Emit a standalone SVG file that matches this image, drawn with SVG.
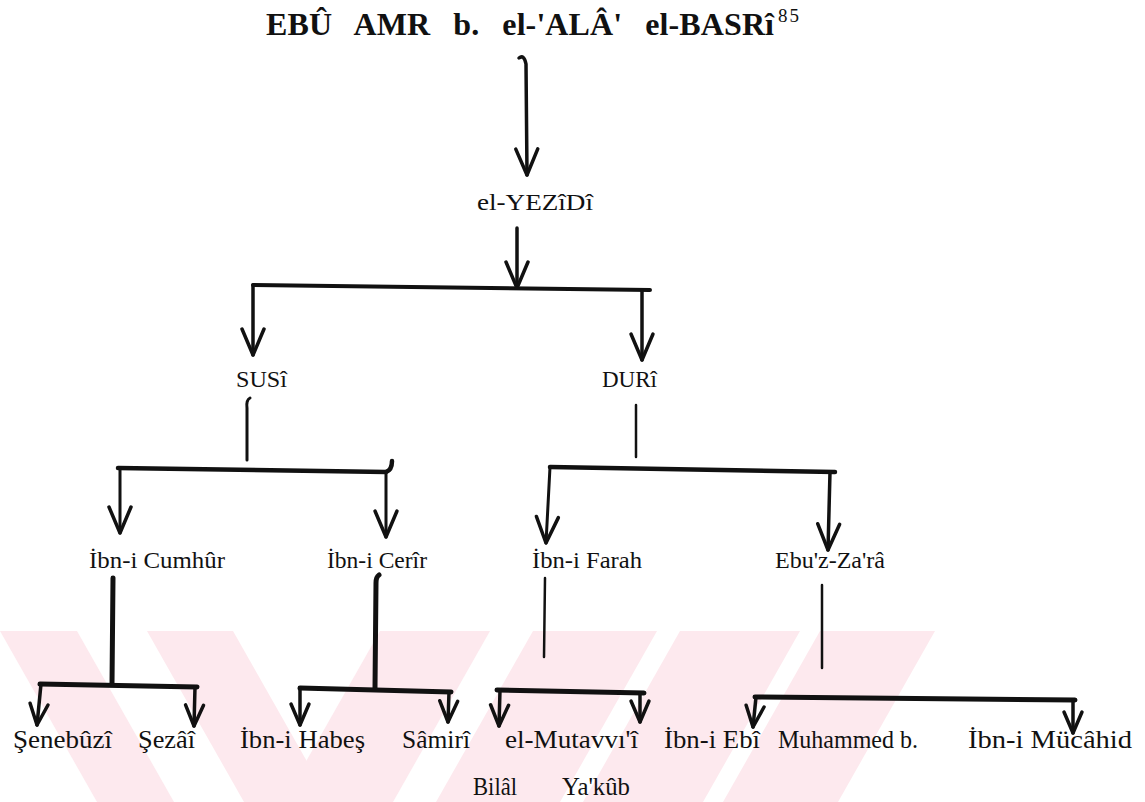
<svg xmlns="http://www.w3.org/2000/svg" width="1145" height="802" viewBox="0 0 1145 802">
<style>
.t{font-family:"Liberation Serif","Times New Roman",serif;font-size:24px;fill:#111}
.b{font-size:25px}
.ttl{font-family:"Liberation Serif","Times New Roman",serif;font-size:32px;font-weight:bold;fill:#111}
.c{fill:none;stroke:#111;stroke-linecap:round;stroke-linejoin:round}
.w{fill:#fde9ee}
</style>
<defs>
<marker id="ah" markerUnits="userSpaceOnUse" markerWidth="40" markerHeight="40" refX="0" refY="0" orient="auto" overflow="visible">
<path d="M-26,-11 L0,0 L-26,11" fill="none" stroke="#111" stroke-width="3.5" stroke-linecap="round" stroke-linejoin="round"/>
</marker>
<marker id="as" markerUnits="userSpaceOnUse" markerWidth="40" markerHeight="40" refX="0" refY="0" orient="auto" overflow="visible">
<path d="M-21,-9 L0,0 L-21,9" fill="none" stroke="#111" stroke-width="3.5" stroke-linecap="round" stroke-linejoin="round"/>
</marker>
</defs>
<rect width="1145" height="802" fill="#fff"/>
<g id="watermark">
<polygon class="w" points="0,631 77,631 174,802 97,802"/>
<polygon class="w" points="147,631 233,631 330,802 244,802"/>
<polygon class="w" points="380,631 490,631 393,802 283,802"/>
<polygon class="w" points="533,631 657,631 560,802 436,802"/>
<polygon class="w" points="680,631 800,631 703,802 583,802"/>
<polygon class="w" points="820,631 935,631 838,802 723,802"/>
</g>
<g id="connectors">
<path class="c" style="stroke-width:3.5" d="M519,58 Q524,54 526,64 L527,175" marker-end="url(#ah)"/>
<path class="c" style="stroke-width:3.5" d="M517,228 L517,288" marker-end="url(#ah)"/>
<path class="c" style="stroke-width:4" d="M253,285 L650,290"/>
<path class="c" style="stroke-width:3.5" d="M253,285 L253,355" marker-end="url(#ah)"/>
<path class="c" style="stroke-width:3.5" d="M642,290 L642,360" marker-end="url(#ah)"/>
<path class="c" style="stroke-width:3" d="M250,398 Q246,400 247,408 L247,460"/>
<path class="c" style="stroke-width:4.5" d="M118,468 L386,472 Q392,470 392,461"/>
<path class="c" style="stroke-width:3" d="M120,468 L120,533" marker-end="url(#ah)"/>
<path class="c" style="stroke-width:3" d="M386,472 L386,537" marker-end="url(#ah)"/>
<path class="c" style="stroke-width:2.5" d="M636,405 L636,457"/>
<path class="c" style="stroke-width:4.5" d="M550,467 L835,472"/>
<path class="c" style="stroke-width:3" d="M550,467 L546,543" marker-end="url(#ah)"/>
<path class="c" style="stroke-width:3.5" d="M830,472 L828,550" marker-end="url(#ah)"/>
<path class="c" style="stroke-width:5" d="M113,578 L112,684"/>
<path class="c" style="stroke-width:5" d="M40,684 L197,687"/>
<path class="c" style="stroke-width:3.5" d="M41,684 L37,725" marker-end="url(#as)"/>
<path class="c" style="stroke-width:3.5" d="M195,687 L194,726" marker-end="url(#as)"/>
<path class="c" style="stroke-width:5" d="M379,575 Q376,577 376,583 L375,688"/>
<path class="c" style="stroke-width:5" d="M300,688 L451,692"/>
<path class="c" style="stroke-width:3.5" d="M300,688 L300,725" marker-end="url(#as)"/>
<path class="c" style="stroke-width:3.5" d="M449,692 L448,722" marker-end="url(#as)"/>
<path class="c" style="stroke-width:2.5" d="M545,578 L544,657"/>
<path class="c" style="stroke-width:5" d="M497,690 L644,693"/>
<path class="c" style="stroke-width:3.5" d="M500,690 L499,726" marker-end="url(#as)"/>
<path class="c" style="stroke-width:3.5" d="M640,693 L640,722" marker-end="url(#as)"/>
<path class="c" style="stroke-width:2.5" d="M822,585 L822,668"/>
<path class="c" style="stroke-width:5" d="M755,697 L1075,700"/>
<path class="c" style="stroke-width:3.5" d="M756,697 L753,727" marker-end="url(#as)"/>
<path class="c" style="stroke-width:3.5" d="M1073,700 L1073,733" marker-end="url(#as)"/>
</g>
<g id="n-title"><text class="ttl" x="266" y="35" style="word-spacing:15px" textLength="508" lengthAdjust="spacing">EBÛ AMR b. el-'ALÂ' el-BASRî</text><text class="ttl" x="778" y="22" style="font-size:19px;font-weight:normal;letter-spacing:2px">85</text></g>
<g id="n-yezidi"><text class="t" x="477" y="210" textLength="116" lengthAdjust="spacingAndGlyphs">el-YEZîDî</text></g>
<g id="n-susi"><text class="t" x="236" y="387" textLength="51" lengthAdjust="spacingAndGlyphs">SUSî</text></g>
<g id="n-duri"><text class="t" x="602" y="387" textLength="55" lengthAdjust="spacingAndGlyphs">DURî</text></g>
<g id="n-cumhur"><text class="t" x="89" y="568" textLength="136" lengthAdjust="spacingAndGlyphs">İbn-i Cumhûr</text></g>
<g id="n-cerir"><text class="t" x="327" y="568" textLength="100" lengthAdjust="spacingAndGlyphs">İbn-i Cerîr</text></g>
<g id="n-farah"><text class="t" x="532" y="568" textLength="110" lengthAdjust="spacingAndGlyphs">İbn-i Farah</text></g>
<g id="n-ebuzzara"><text class="t" x="775" y="568" textLength="110" lengthAdjust="spacingAndGlyphs">Ebu'z-Za'râ</text></g>
<g id="n-senebuzi"><text class="t b" x="13" y="748" textLength="99" lengthAdjust="spacingAndGlyphs">Şenebûzî</text></g>
<g id="n-sezai"><text class="t b" x="138" y="748" textLength="57" lengthAdjust="spacingAndGlyphs">Şezâî</text></g>
<g id="n-habes"><text class="t b" x="240" y="748" textLength="125" lengthAdjust="spacingAndGlyphs">İbn-i Habeş</text></g>
<g id="n-samiri"><text class="t b" x="402" y="748" textLength="68" lengthAdjust="spacingAndGlyphs">Sâmirî</text></g>
<g id="n-mutavvii"><text class="t b" x="505" y="748" textLength="133" lengthAdjust="spacingAndGlyphs">el-Mutavvı'î</text></g>
<g id="n-ibniebi"><text class="t b" x="664" y="748" textLength="96" lengthAdjust="spacingAndGlyphs">İbn-i Ebî</text><text class="t b" x="473" y="795" textLength="44" lengthAdjust="spacingAndGlyphs">Bilâl</text></g>
<g id="n-muhammed"><text class="t b" x="778" y="748" textLength="140" lengthAdjust="spacingAndGlyphs">Muhammed b.</text><text class="t b" x="562" y="795" textLength="68" lengthAdjust="spacingAndGlyphs">Ya'kûb</text></g>
<g id="n-mucahid"><text class="t b" x="968" y="748" textLength="164" lengthAdjust="spacingAndGlyphs">İbn-i Mücâhid</text></g>
</svg>
